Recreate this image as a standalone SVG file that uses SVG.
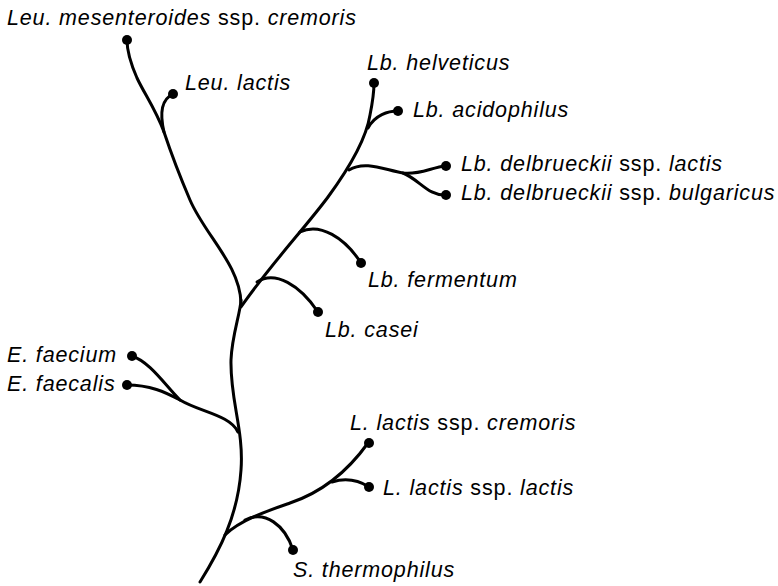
<svg xmlns="http://www.w3.org/2000/svg" width="778" height="586" viewBox="0 0 778 586">
<style>
.br{fill:none;stroke:#000;stroke-width:3;stroke-linecap:round}
.dot{fill:#000}
text{font-family:"Liberation Sans",Arial,sans-serif;font-size:21.5px;letter-spacing:0.85px;fill:#000}
.i{font-style:italic}
</style>
<rect width="778" height="586" fill="#fff"/>
<g id="connectors">
<path class="br" d="M200,582 C220,550 238,515 241,470 C244,430 230,400 231,360 C232,335 240,315 241,300"/>
<path class="br" d="M241,303 C240,265 205,235 190,200 C178,172 170,150 164,132 C155,108 145,95 137,78 C130,62 127,50 127,40"/>
<path class="br" d="M164,132 C160,115 160,100 173,94"/>
<path class="br" d="M241,307 C270,265 305,228 328,197 C350,167 366,140 370,115 C373,100 374,90 374,83"/>
<path class="br" d="M368,128 C375,115 388,111 398,111"/>
<path class="br" d="M349,170 C365,160 385,170 403,173 C420,175 432,167 446,166"/>
<path class="br" d="M403,173 C420,180 428,196 446,195"/>
<path class="br" d="M300,232 C320,222 345,238 361,263"/>
<path class="br" d="M257,282 C275,270 300,285 318,312"/>
<path class="br" d="M132,356 C150,362 165,385 180,400 C200,412 230,415 238,432"/>
<path class="br" d="M127,385 C150,385 165,392 180,400"/>
<path class="br" d="M225,535 C240,520 270,510 290,503 C320,493 345,475 368,443"/>
<path class="br" d="M332,482 C345,478 358,480 369,487"/>
<path class="br" d="M245,520 C265,510 285,525 293,550"/>
</g>
<g id="leu-mesenteroides"><circle class="dot" cx="127" cy="40" r="5"/><text x="7" y="25"><tspan class="i">Leu. mesenteroides</tspan> ssp. <tspan class="i">cremoris</tspan></text></g>
<g id="leu-lactis"><circle class="dot" cx="173" cy="94" r="5"/><text x="185" y="90" class="i">Leu. lactis</text></g>
<g id="lb-helveticus"><circle class="dot" cx="374" cy="83" r="5"/><text x="367" y="70" class="i">Lb. helveticus</text></g>
<g id="lb-acidophilus"><circle class="dot" cx="398" cy="111" r="5"/><text x="413" y="117" class="i">Lb. acidophilus</text></g>
<g id="lb-delbrueckii-lactis"><circle class="dot" cx="446" cy="166" r="5"/><text x="461" y="171"><tspan class="i">Lb. delbrueckii</tspan> ssp. <tspan class="i">lactis</tspan></text></g>
<g id="lb-delbrueckii-bulgaricus"><circle class="dot" cx="446" cy="195" r="5"/><text x="461" y="200"><tspan class="i">Lb. delbrueckii</tspan> ssp. <tspan class="i">bulgaricus</tspan></text></g>
<g id="lb-fermentum"><circle class="dot" cx="361" cy="263" r="5"/><text x="368" y="287" class="i">Lb. fermentum</text></g>
<g id="lb-casei"><circle class="dot" cx="318" cy="312" r="5"/><text x="325" y="337" class="i">Lb. casei</text></g>
<g id="e-faecium"><circle class="dot" cx="132" cy="356" r="5"/><text x="7" y="362" class="i">E. faecium</text></g>
<g id="e-faecalis"><circle class="dot" cx="127" cy="385" r="5"/><text x="7" y="391" class="i">E. faecalis</text></g>
<g id="l-lactis-cremoris"><circle class="dot" cx="369" cy="443" r="5"/><text x="350" y="430"><tspan class="i">L. lactis</tspan> ssp. <tspan class="i">cremoris</tspan></text></g>
<g id="l-lactis-lactis"><circle class="dot" cx="369" cy="487" r="5"/><text x="383" y="495"><tspan class="i">L. lactis</tspan> ssp. <tspan class="i">lactis</tspan></text></g>
<g id="s-thermophilus"><circle class="dot" cx="293" cy="550" r="5"/><text x="293" y="577" class="i">S. thermophilus</text></g>
</svg>
